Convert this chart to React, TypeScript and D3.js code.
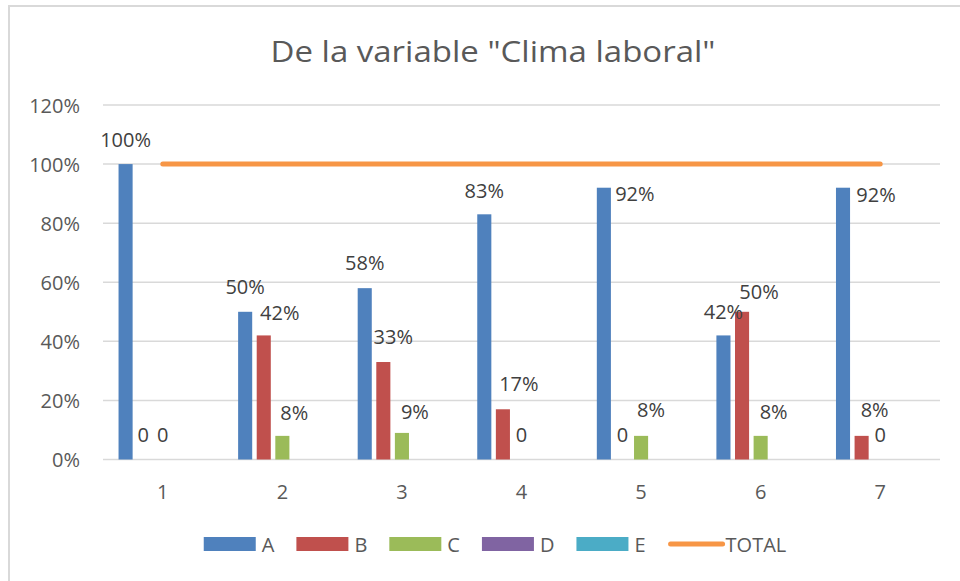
import React, { useEffect, useRef } from "react";
import * as d3 from "d3";

const categories = ["1", "2", "3", "4", "5", "6", "7"];
const seriesNames = ["A", "B", "C", "D", "E"];
const seriesA = [1, 0.5, 0.58, 0.83, 0.92, 0.42, 0.92];
const seriesB = [0, 0.42, 0.33, 0.17, 0, 0.5, 0.08];
const seriesC = [0, 0.08, 0.09, 0, 0.08, 0.08, 0];
const seriesD = [0, 0, 0, 0, 0, 0, 0];
const seriesE = [0, 0, 0, 0, 0, 0, 0];
const totalLine = [1, 1, 1, 1, 1, 1, 1];
const yTicks = [0, 0.2, 0.4, 0.6, 0.8, 1.0, 1.2];
const titleText = 'De la variable "Clima laboral"';

// label nudges (layout only): [dx, dy] from bar top-center to label center
const labelNudgeA = [[0, -25], [0, -25], [0, -26], [0, -24], [31, 6], [0, -24], [33, 7]];
const labelNudgeB = [[-1, -25], [16, -23], [10, -26], [16, -26], [0, -25], [17, -20], [13, -26]];
const labelNudgeC = [[0, -25], [12, -23], [13, -21], [0, -25], [10, -26], [13, -24], [0, -25]];

const colors = ["#4f81bd", "#c0504d", "#9bbb59", "#8064a2", "#4bacc6"];
const totalColor = "#f79646";
const FONT = "'Open Sans', 'DejaVu Sans', sans-serif";

export default function App() {
  const ref = useRef<SVGSVGElement | null>(null);

  useEffect(() => {
    document.body.style.margin = "0";
    const svg = d3.select(ref.current);
    svg.selectAll("*").remove();

    const W = 960, H = 581;
    const left = 103, right = 940, top = 105, bottom = 459.5;

    svg.append("rect").attr("x", 0).attr("y", 0).attr("width", W).attr("height", H).attr("fill", "#fff");
    svg.append("rect").attr("x", 9).attr("y", 6).attr("width", 1000).attr("height", 1000)
      .attr("fill", "none").attr("stroke", "#d9d9d9").attr("stroke-width", 2);

    const x0 = d3.scaleBand<string>().domain(categories).range([left, right])
      .paddingInner(0.26).paddingOuter(0.13);
    const x1 = d3.scaleBand<string>().domain(seriesNames).range([0, x0.bandwidth()])
      .paddingInner(0.243).paddingOuter(0);
    const y = d3.scaleLinear().domain([0, 1.2]).range([bottom, top]);

    // title
    svg.append("text").attr("x", 493).attr("y", 50).attr("text-anchor", "middle")
      .attr("dominant-baseline", "central")
      .attr("font-family", FONT).attr("font-size", 30).attr("fill", "#595959")
      .attr("textLength", 445).attr("lengthAdjust", "spacingAndGlyphs")
      .text(titleText);

    // gridlines
    const g = svg.append("g");
    g.selectAll("line.grid").data(yTicks).enter().append("line")
      .attr("x1", left).attr("x2", right)
      .attr("y1", d => y(d)).attr("y2", d => y(d))
      .attr("stroke", "#d9d9d9").attr("stroke-width", 1.5);

    // y labels
    g.selectAll("text.ylab").data(yTicks).enter().append("text")
      .attr("x", 80).attr("y", d => y(d)).attr("text-anchor", "end")
      .attr("dominant-baseline", "central")
      .attr("font-family", FONT).attr("font-size", 20).attr("fill", "#595959")
      .text(d => `${Math.round(d * 100)}%`);

    // x labels
    g.selectAll("text.xlab").data(categories).enter().append("text")
      .attr("x", d => (x0(d) as number) + x0.bandwidth() / 2).attr("y", 491)
      .attr("text-anchor", "middle").attr("dominant-baseline", "central")
      .attr("font-family", FONT).attr("font-size", 20).attr("fill", "#595959")
      .text(d => d);

    const allSeries = [seriesA, seriesB, seriesC, seriesD, seriesE];
    const nudges = [labelNudgeA, labelNudgeB, labelNudgeC, null, null];

    allSeries.forEach((vals, si) => {
      const name = seriesNames[si];
      const sg = svg.append("g");
      sg.selectAll("rect").data(vals).enter().append("rect")
        .attr("x", (_, i) => (x0(categories[i]) as number) + (x1(name) as number))
        .attr("width", x1.bandwidth())
        .attr("y", d => y(d))
        .attr("height", d => y(0) - y(d))
        .attr("fill", colors[si]);
    });

    // TOTAL line
    const line = d3.line<number>()
      .x((_, i) => (x0(categories[i]) as number) + x0.bandwidth() / 2)
      .y(d => y(d));
    svg.append("path").datum(totalLine).attr("d", line)
      .attr("fill", "none").attr("stroke", totalColor).attr("stroke-width", 5)
      .attr("stroke-linecap", "round");

    // data labels
    allSeries.forEach((vals, si) => {
      const nd = nudges[si];
      if (!nd) return;
      const name = seriesNames[si];
      svg.append("g").selectAll("text").data(vals).enter().append("text")
        .attr("x", (_, i) => (x0(categories[i]) as number) + (x1(name) as number) + x1.bandwidth() / 2 + nd[i][0])
        .attr("y", (d, i) => y(d) + nd[i][1])
        .attr("text-anchor", "middle").attr("dominant-baseline", "central")
        .attr("font-family", FONT).attr("font-size", 20).attr("fill", "#404040")
        .text(d => (d === 0 ? "0" : `${Math.round(d * 100)}%`));
    });

    // legend
    const legendItems = [...seriesNames, "TOTAL"];
    const lg = svg.append("g");
    const sw = 52, gapText = 6, gapItem = 22;
    let cx = 0;
    const positions: number[] = [];
    const texts: any[] = [];
    legendItems.forEach((name) => {
      positions.push(cx);
      const t = lg.append("text").attr("y", 544).attr("dominant-baseline", "central")
        .attr("font-family", FONT).attr("font-size", 20).attr("fill", "#595959").text(name);
      texts.push(t);
      const tw = (t.node() as SVGTextElement).getComputedTextLength();
      cx += sw + gapText + tw + gapItem;
    });
    const totalW = cx - gapItem;
    const startX = 495 - totalW / 2;
    legendItems.forEach((name, i) => {
      const px = startX + positions[i];
      if (i < 5) {
        lg.append("rect").attr("x", px).attr("y", 537).attr("width", sw).attr("height", 14)
          .attr("fill", colors[i]);
      } else {
        lg.append("line").attr("x1", px + 3).attr("x2", px + sw + 3).attr("y1", 544).attr("y2", 544)
          .attr("stroke", totalColor).attr("stroke-width", 5).attr("stroke-linecap", "round");
      }
      texts[i].attr("x", px + sw + gapText);
    });
  }, []);

  return (
    <svg ref={ref} width={960} height={581}
      style={{ position: "absolute", left: 0, top: 0, display: "block" }} />
  );
}
